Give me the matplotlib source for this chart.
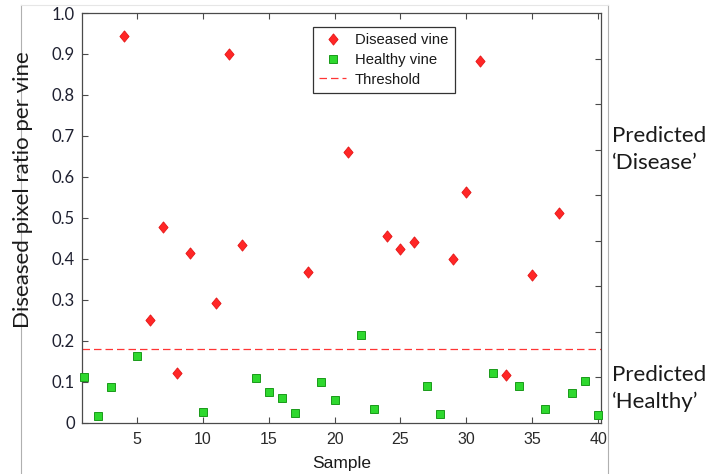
import matplotlib
matplotlib.use("Agg")
import matplotlib.pyplot as plt
from matplotlib.lines import Line2D

# ---- data ----
disease_x = [4, 6, 7, 8, 9, 11, 12, 13, 18, 21, 24, 25, 26, 29, 30, 31, 33, 35, 37]
disease_y = [0.944, 0.250, 0.477, 0.122, 0.414, 0.293, 0.900, 0.433, 0.369, 0.661,
             0.455, 0.423, 0.440, 0.400, 0.564, 0.882, 0.117, 0.361, 0.511]
healthy_x = [1, 2, 3, 5, 10, 14, 15, 16, 17, 19, 20, 22, 23, 27, 28, 32, 34, 36, 38, 39, 40]
healthy_y = [0.112, 0.017, 0.088, 0.164, 0.025, 0.110, 0.074, 0.061, 0.024, 0.100, 0.055,
             0.215, 0.034, 0.090, 0.022, 0.122, 0.090, 0.034, 0.072, 0.101, 0.020]
threshold = 0.18
x_ticks = [5, 10, 15, 20, 25, 30, 35, 40]
y_ticks = [0, 0.1, 0.2, 0.3, 0.4, 0.5, 0.6, 0.7, 0.8, 0.9, 1.0]
y_ticklabels = ["0", "0.1", "0.2", "0.3", "0.4", "0.5", "0.6", "0.7", "0.8", "0.9", "1.0"]
right_ticks = [0.1, 0.2, 0.3, 0.4, 0.5, 0.6, 0.7, 0.8]
legend_labels = ["Diseased vine", "Healthy vine", "Threshold"]

W, H = 713, 474
fig = plt.figure(figsize=(W / 100, H / 100), dpi=100)
fig.patch.set_facecolor("white")

def fx(px):
    return px / W

def fy(py):
    return 1 - py / H

L, R, T, B = 81.7, 600.7, 13.0, 422.7
ax = fig.add_axes([fx(L), fy(B), fx(R) - fx(L), fy(T) - fy(B)])
ax.set_xlim(0.8, 40.2)
ax.set_ylim(0, 1.0)

diamond = [(0, 1), (0.82, 0), (0, -1), (-0.82, 0), (0, 1)]
red_fill, red_edge = "#ff2626", "#e01010"
green_fill, green_edge = "#2ed82e", "#1a9a1a"
thr_col = "#ff3535"

ax.plot(disease_x, disease_y, linestyle="none", marker=diamond, markersize=8.2,
        markerfacecolor=red_fill, markeredgecolor=red_edge, markeredgewidth=0.5,
        clip_on=False, zorder=3)
ax.plot(healthy_x, healthy_y, linestyle="none", marker="s", markersize=5.6,
        markerfacecolor=green_fill, markeredgecolor=green_edge, markeredgewidth=0.7,
        clip_on=False, zorder=3)
ax.axhline(threshold, color=thr_col, linewidth=0.9, dashes=(6.0, 3.2), zorder=2)

spine_col = "#4a4a4a"
for s in ax.spines.values():
    s.set_color(spine_col)
    s.set_linewidth(0.9)

ax.set_xticks(x_ticks)
ax.set_xticklabels([str(v) for v in x_ticks], fontfamily="Liberation Sans",
                   fontsize=11.5, color="#2a2a2a")
ax.set_yticks(y_ticks)
ax.set_yticklabels(y_ticklabels, fontfamily="Lato", fontsize=12, color="#1e2030")
ax.tick_params(axis="x", direction="in", length=4, width=0.8, color=spine_col,
               top=True, bottom=True, pad=7)
ax.tick_params(axis="y", direction="in", length=4, width=0.8, color=spine_col,
               left=True, right=False, pad=5)

ax2 = ax.twinx()
ax2.set_ylim(0, 0.9)
ax2.set_yticks(right_ticks)
ax2.tick_params(axis="y", direction="in", length=4, width=0.8, color=spine_col,
                labelright=False, right=True)
for s in ax2.spines.values():
    s.set_visible(False)

ax.set_xlabel("Sample", fontfamily="Liberation Sans", fontsize=12.5,
              color="#1a1a1a", labelpad=6)

# y label (positioned as in the reference, not centred on the axis)
fig.text(fx(23), fy(190), "Diseased pixel ratio per vine", rotation=90,
         ha="center", va="center", fontfamily="Lato", fontsize=16, color="#1a1a1a")

# right-side annotations
for txt, py in [("Predicted", 136), ("\u2018Disease\u2019", 163),
                ("Predicted", 375), ("\u2018Healthy\u2019", 402)]:
    fig.text(fx(612), fy(py), txt, ha="left", va="center", fontfamily="Lato",
             fontsize=16, color="#1a1a1a")

# screenshot border lines
fig.add_artist(Line2D([fx(20.7), fx(20.7)], [fy(5), fy(474)], color="#b0b0b0", lw=0.8))
fig.add_artist(Line2D([fx(608.3), fx(608.3)], [fy(5), fy(474)], color="#b0b0b0", lw=0.8))
fig.add_artist(Line2D([fx(20.7), fx(608.3)], [fy(4.5), fy(4.5)], color="#e6e6e6", lw=0.8))

handles = [
    Line2D([], [], linestyle="none", marker=diamond, markersize=8.2,
           markerfacecolor=red_fill, markeredgecolor=red_edge, markeredgewidth=0.5),
    Line2D([], [], linestyle="none", marker="s", markersize=5.6,
           markerfacecolor=green_fill, markeredgecolor=green_edge, markeredgewidth=0.7),
    Line2D([], [], color=thr_col, linewidth=0.9, dashes=(6.0, 3.2)),
]
leg = ax.legend(handles, legend_labels, loc="upper left",
                bbox_to_anchor=(fx(313), fy(27)), bbox_transform=fig.transFigure,
                prop={"family": "Liberation Sans", "size": 10.7},
                frameon=True, fancybox=False, shadow=False, framealpha=1,
                edgecolor="#333333", borderpad=0.42, labelspacing=0.38,
                handlelength=1.8, handletextpad=0.6, borderaxespad=0)
leg.get_frame().set_linewidth(0.9)
for t in leg.get_texts():
    t.set_color("#1a1a1a")

fig.savefig("out.png", dpi=100)
